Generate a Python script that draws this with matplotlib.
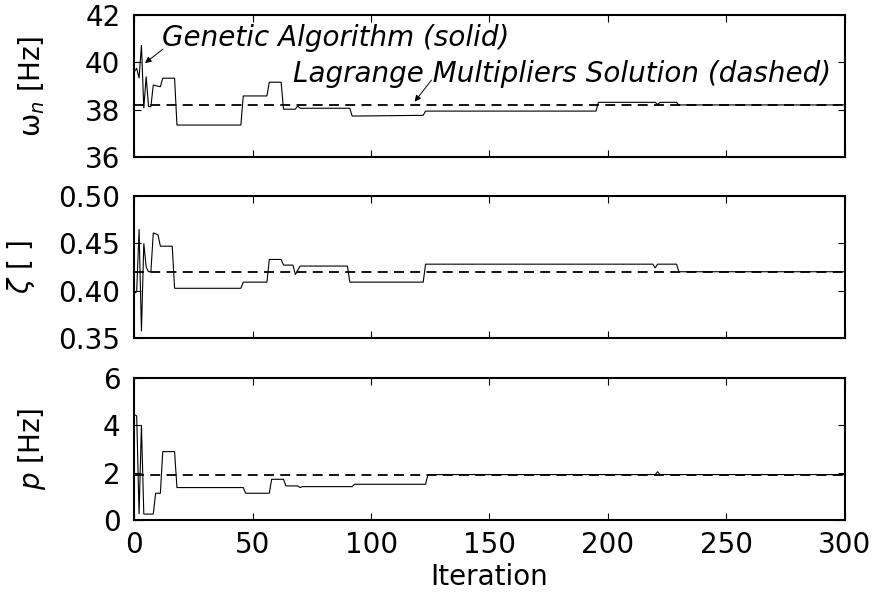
import matplotlib
matplotlib.use("Agg")
import matplotlib.pyplot as plt

# ---- data ----
iter_wn = [0, 1, 2, 3, 4, 5, 6, 7, 8, 11, 12, 17, 18, 45, 46, 56, 57, 62, 63, 68, 69, 70,
           91, 92, 122, 123, 195, 196, 220, 221, 222, 229, 230, 300]
wn_ga = [39.6, 39.75, 39.33, 40.73, 38.06, 39.4, 38.13, 38.13, 39.04, 38.97, 39.33, 39.33,
         37.35, 37.35, 38.58, 38.58, 39.16, 39.16, 38.02, 38.02, 38.16, 38.06, 38.06, 37.73,
         37.76, 37.94, 37.94, 38.31, 38.31, 38.22, 38.31, 38.31, 38.2, 38.2]
wn_lagrange = 38.2

iter_zeta = [0, 1, 2, 3, 4, 5, 6, 7, 8, 10, 11, 16, 17, 45, 46, 56, 57, 62, 63, 67, 68, 70,
             90, 91, 122, 123, 219, 220, 221, 229, 230, 300]
zeta_ga = [0.397, 0.399, 0.465, 0.357, 0.450, 0.425, 0.420, 0.420, 0.461, 0.459, 0.447,
           0.447, 0.4025, 0.4025, 0.409, 0.409, 0.433, 0.433, 0.427, 0.427, 0.417, 0.426,
           0.426, 0.409, 0.409, 0.428, 0.428, 0.424, 0.428, 0.428, 0.420, 0.420]
zeta_lagrange = 0.42

iter_p = [0, 1, 2, 3, 4, 8, 9, 11, 12, 17, 18, 46, 47, 57, 58, 63, 64, 69, 70, 71, 92, 93,
          123, 124, 220, 221, 222, 300]
p_ga = [4.45, 4.4, 0.25, 4.0, 0.25, 0.25, 1.13, 1.13, 2.89, 2.89, 1.37, 1.37, 1.13, 1.13,
        1.72, 1.72, 1.44, 1.44, 1.37, 1.41, 1.41, 1.51, 1.51, 1.92, 1.92, 2.04, 1.92, 1.92]
p_lagrange = 1.9

x_range = [0, 300]
x_ticks = [0, 50, 100, 150, 200, 250, 300]
ylims = [(36, 42), (0.35, 0.50), (0, 6)]
yticks = [[36, 38, 40, 42], [0.35, 0.40, 0.45, 0.50], [0, 2, 4, 6]]
ytick_labels = [["36", "38", "40", "42"], ["0.35", "0.40", "0.45", "0.50"], ["0", "2", "4", "6"]]
ylabels = [r"$\mathrm{\omega}_n$ [Hz]", r"$\zeta$ [ ]", r"$p$ [Hz]"]
ylabel_x = [-0.123, -0.137, -0.121]
xlabel = "Iteration"
label_ga = "Genetic Algorithm (solid)"
label_lm = "Lagrange Multipliers Solution (dashed)"

plt.rcParams["font.family"] = ["DejaVu Sans"]
plt.rcParams["font.size"] = 20
plt.rcParams["mathtext.fontset"] = "dejavusans"

fig = plt.figure(figsize=(8.78, 5.94), dpi=100)
left, width = 0.153, 0.809
bottoms = [0.7357, 0.4310, 0.1246]
height = 0.239

series = [(iter_wn, wn_ga, wn_lagrange), (iter_zeta, zeta_ga, zeta_lagrange),
          (iter_p, p_ga, p_lagrange)]
axes = []
for i, (xs, ys, lm) in enumerate(series):
    ax = fig.add_axes([left, bottoms[i], width, height])
    ax.plot(xs, ys, color="black", lw=0.8, solid_joinstyle="miter")
    ax.plot(x_range, [lm, lm], color="black", lw=1.3, dashes=(5.5, 3.5))
    ax.set_xlim(*x_range)
    ax.set_ylim(*ylims[i])
    ax.set_xticks(x_ticks)
    ax.set_yticks(yticks[i])
    ax.set_yticklabels(ytick_labels[i])
    if i < 2:
        ax.set_xticklabels([])
    ax.tick_params(direction="in", top=True, right=True, length=5, width=0.8,
                   labelsize=20)
    ax.tick_params(axis="y", pad=10)
    ax.tick_params(axis="x", pad=8)
    for s in ax.spines.values():
        s.set_linewidth(1.5)
    ax.set_ylabel(ylabels[i], fontsize=20)
    ax.yaxis.set_label_coords(ylabel_x[i], 0.5)
    axes.append(ax)

axes[2].set_xlabel(xlabel, fontsize=20, labelpad=3)

ax0 = axes[0]
ax0.text(11.7, 40.70, label_ga, fontsize=20, style="italic", ha="left", va="baseline")
ax0.annotate("", xy=(4.5, 39.97), xytext=(12.1, 40.56),
             arrowprops=dict(arrowstyle="-|>", color="black", lw=0.7,
                             mutation_scale=9, shrinkA=0, shrinkB=0))
ax0.text(294.4, 39.18, label_lm, fontsize=20, style="italic", ha="right", va="baseline")
ax0.annotate("", xy=(118.4, 38.34), xytext=(125.5, 39.25),
             arrowprops=dict(arrowstyle="-|>", color="black", lw=0.7,
                             mutation_scale=9, shrinkA=0, shrinkB=0))

fig.savefig("out.png", dpi=100)
